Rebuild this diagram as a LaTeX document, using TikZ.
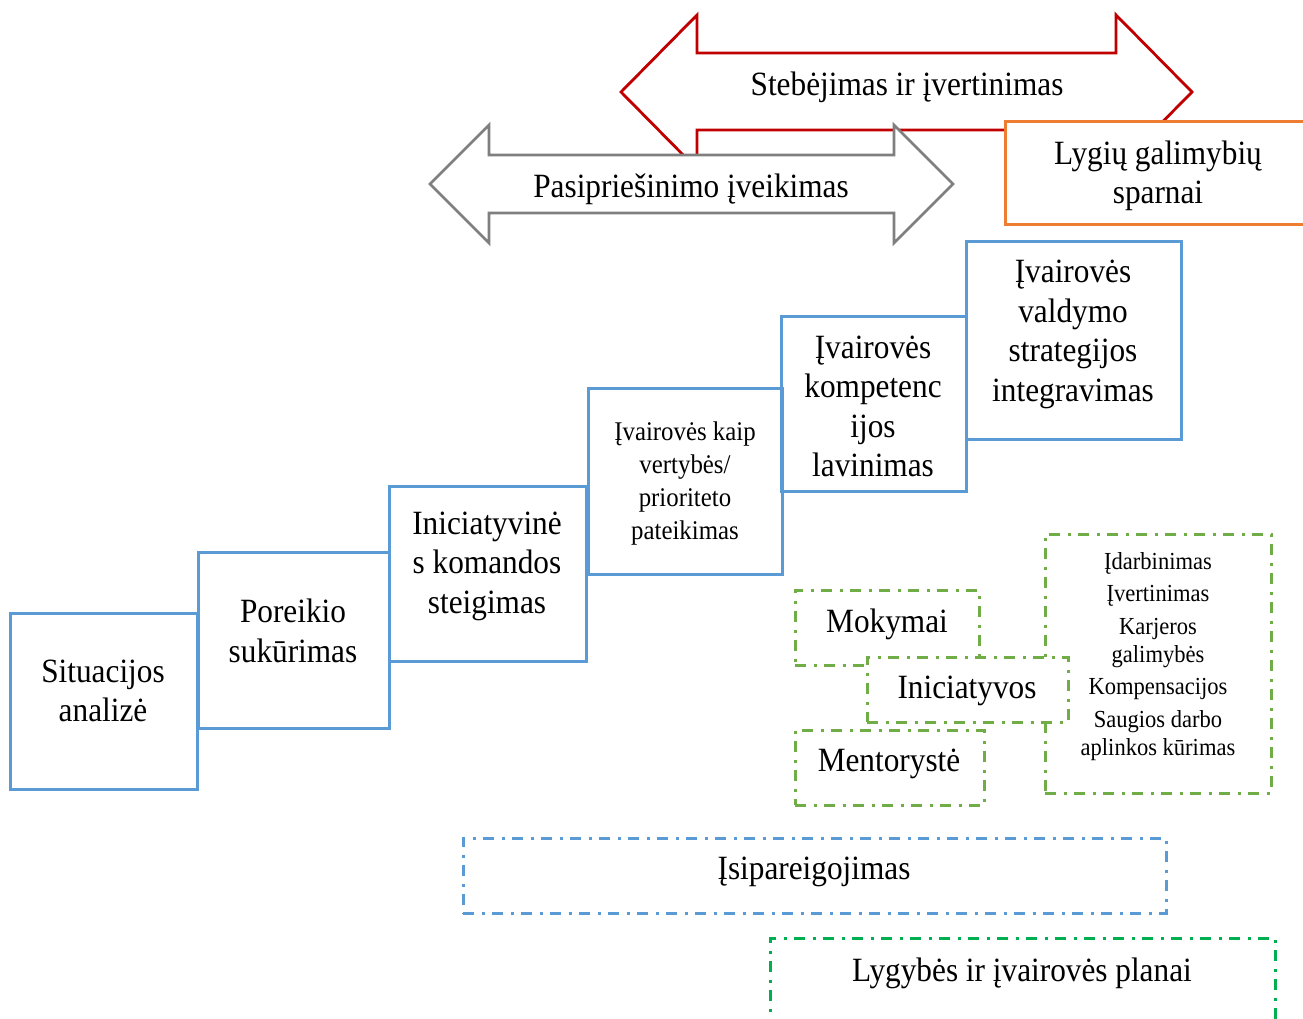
\documentclass[tikz,border=0pt]{standalone}
\usepackage{fontspec}
\setmainfont{Liberation Serif}[FakeStretch=0.92]
\definecolor{boxblue}{HTML}{5B9BD5}
\definecolor{boxorange}{HTML}{ED7D31}
\definecolor{arrred}{HTML}{C00000}
\definecolor{arrgrey}{HTML}{7F7F7F}
\definecolor{boxgreen}{HTML}{70AD47}
\definecolor{plangreen}{HTML}{00B050}
\tikzset{
  big/.style={font=\fontsize{34}{39.5}\selectfont, align=center, inner sep=0pt},
  small/.style={font=\fontsize{27}{33}\selectfont, align=center, inner sep=0pt},
  tiny/.style={font=\fontsize{24.5}{32.5}\selectfont, align=center, inner sep=0pt},
  solidbox/.style={draw=boxblue, line width=3pt, inner sep=0pt},
  dashdot/.style={dash pattern=on 11pt off 7.5pt on 3pt off 7.5pt, line width=3pt},
  greenbox/.style={draw=boxgreen, dashdot, fill=white, inner sep=0pt},
}
\begin{document}
\begin{tikzpicture}[x=1pt,y=-1pt]
\useasboundingbox (0,0) rectangle (1303,1019);
% red double arrow
\draw[arrred, line width=2.8pt, line join=miter, fill=white]
  (621,92) -- (697,15) -- (697,53) -- (1116,53) -- (1116,15) -- (1192,92)
  -- (1116,169) -- (1116,130) -- (697,130) -- (697,169) -- cycle;
\node[big] (steb) at (907,87) {Stebėjimas ir įvertinimas};
% grey double arrow
\draw[arrgrey, line width=2.8pt, line join=miter, fill=white]
  (430,184) -- (489,125) -- (489,155) -- (894,155) -- (894,125) -- (953,184)
  -- (894,243) -- (894,213) -- (489,213) -- (489,243) -- cycle;
\node[big] (pasip) at (691,189) {Pasipriešinimo įveikimas};
% orange box
\draw[boxorange, line width=3pt, fill=white] (1005,122) rectangle (1312,224);
\node[big] (lygiu) at (1158,176) {Lygių galimybių\\sparnai};
% staircase of blue boxes
\node[solidbox, minimum width=187pt, minimum height=176pt] (b1) at (103.5,701) {};
\node[big] (t1) at (103,691) {Situacijos\\analizė};
\node[solidbox, minimum width=191pt, minimum height=176pt] (b2) at (293.5,640) {};
\node[big] (t2) at (293,631) {Poreikio\\sukūrimas};
\node[solidbox, minimum width=197pt, minimum height=175pt] (b3) at (487.5,573.5) {};
\node[big] (t3) at (487,566) {Iniciatyvinė\\s komandos\\steigimas};
\node[solidbox, minimum width=194pt, minimum height=186pt] (b4) at (685,481) {};
\node[small] (t4) at (685,484) {Įvairovės kaip\\vertybės/\\prioriteto\\pateikimas};
\node[solidbox, minimum width=185pt, minimum height=175pt] (b5) at (873.5,403.5) {};
\node[big] (t5) at (873,406.5) {Įvairovės\\kompetenc\\ijos\\lavinimas};
\node[solidbox, minimum width=215pt, minimum height=198pt] (b6) at (1073.5,340) {};
\node[big] (t6) at (1073,334.5) {Įvairovės\\valdymo\\strategijos\\integravimas};
% green dash-dot boxes
\node[greenbox, minimum width=184pt, minimum height=75pt] (g1) at (887,627.5) {};
\node[big] (tg1) at (887,624) {Mokymai};
\node[greenbox, minimum width=226pt, minimum height=259pt] (g4) at (1158,663.5) {};
\node[tiny] (tg4) at (1158,656.5) {Įdarbinimas\\Įvertinimas\\Karjeros\\[-4.5pt]galimybės\\Kompensacijos\\Saugios darbo\\[-4.5pt]aplinkos kūrimas};
\node[greenbox, minimum width=201pt, minimum height=65pt] (g2) at (967.5,689.5) {};
\node[big] (tg2) at (967,691) {Iniciatyvos};
\node[greenbox, minimum width=189pt, minimum height=75pt] (g3) at (889.5,767.5) {};
\node[big] (tg3) at (889,764) {Mentorystė};
% commitment and plans
\node[draw=boxblue, dashdot, inner sep=0pt, minimum width=703pt, minimum height=75pt] (c1) at (814.5,875.5) {};
\node[big] (tc1) at (814,872) {Įsipareigojimas};
\draw[plangreen, dashdot] (770,1030) -- (770,938) -- (1275,938) -- (1275,1030);
\node[big] (tp) at (1022,973) {Lygybės ir įvairovės planai};
\end{tikzpicture}
\end{document}
